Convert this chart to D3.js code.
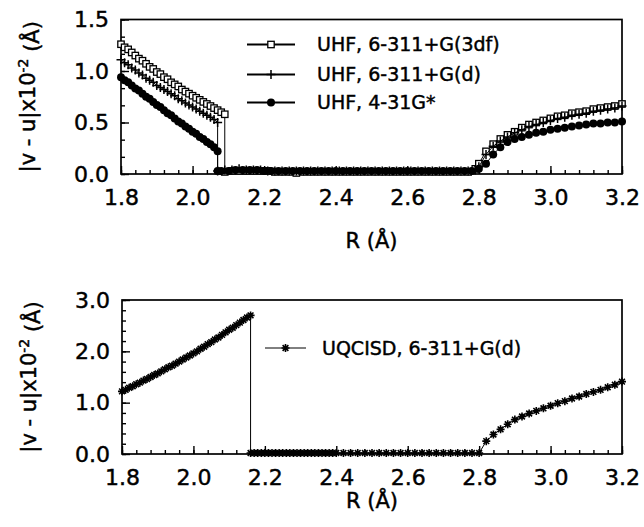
<!DOCTYPE html>
<html>
<head>
<meta charset="utf-8">
<script src="https://cdn.jsdelivr.net/npm/d3@7"></script>
<style>
  body { margin: 0; background: #fff; }
  svg { display: block; font-family: "DejaVu Sans", sans-serif; }
  svg text { stroke: #000; stroke-width: 0.45px; }
</style>
</head>
<body>
<div id="chart"></div>
<script>
// UHF, 6-311+G(3df) : [R, |v-u|]
const uhf3df = [
    [1.80, 1.26], [1.81, 1.23], [1.82, 1.21], [1.83, 1.18], [1.84, 1.15], [1.85, 1.12],
    [1.86, 1.10], [1.87, 1.07], [1.88, 1.04], [1.89, 1.02], [1.90, 0.99], [1.91, 0.97],
    [1.92, 0.94], [1.93, 0.92], [1.94, 0.89], [1.95, 0.87], [1.96, 0.85], [1.97, 0.82],
    [1.98, 0.80], [1.99, 0.78], [2.00, 0.76], [2.01, 0.74], [2.02, 0.72], [2.03, 0.70],
    [2.04, 0.68], [2.05, 0.66], [2.06, 0.64], [2.07, 0.62], [2.08, 0.60], [2.09, 0.58],
    [2.09, 0.02], [2.11, 0.03], [2.13, 0.03], [2.15, 0.03], [2.17, 0.03], [2.19, 0.03],
    [2.21, 0.03], [2.23, 0.02], [2.25, 0.02], [2.27, 0.02], [2.29, 0.01], [2.31, 0.02],
    [2.33, 0.02], [2.35, 0.02], [2.37, 0.02], [2.39, 0.02], [2.41, 0.02], [2.43, 0.02],
    [2.45, 0.02], [2.47, 0.02], [2.49, 0.02], [2.51, 0.02], [2.53, 0.02], [2.55, 0.02],
    [2.57, 0.02], [2.59, 0.02], [2.61, 0.02], [2.63, 0.02], [2.65, 0.02], [2.67, 0.02],
    [2.69, 0.02], [2.71, 0.02], [2.73, 0.02], [2.75, 0.02], [2.77, 0.02], [2.79, 0.05],
    [2.80, 0.10], [2.82, 0.22], [2.84, 0.29], [2.86, 0.34], [2.88, 0.38], [2.90, 0.41],
    [2.92, 0.45], [2.94, 0.48], [2.96, 0.50], [2.98, 0.52], [3.00, 0.54], [3.02, 0.56],
    [3.04, 0.57], [3.06, 0.59], [3.08, 0.60], [3.10, 0.61], [3.12, 0.63], [3.14, 0.64],
    [3.16, 0.65], [3.18, 0.66], [3.20, 0.68]
];

// UHF, 6-311+G(d)
const uhfD = [
    [1.80, 1.11], [1.81, 1.08], [1.82, 1.06], [1.83, 1.03], [1.84, 1.01], [1.85, 0.98],
    [1.86, 0.96], [1.87, 0.93], [1.88, 0.91], [1.89, 0.89], [1.90, 0.86], [1.91, 0.84],
    [1.92, 0.82], [1.93, 0.80], [1.94, 0.78], [1.95, 0.76], [1.96, 0.73], [1.97, 0.71],
    [1.98, 0.69], [1.99, 0.67], [2.00, 0.65], [2.01, 0.63], [2.02, 0.61], [2.03, 0.59],
    [2.04, 0.57], [2.05, 0.55], [2.06, 0.53], [2.07, 0.50],
    [2.07, 0.03], [2.09, 0.04], [2.11, 0.04], [2.13, 0.05], [2.15, 0.04], [2.17, 0.04],
    [2.19, 0.04], [2.21, 0.03], [2.23, 0.03], [2.25, 0.03], [2.27, 0.03], [2.29, 0.03],
    [2.31, 0.03], [2.33, 0.03], [2.35, 0.03], [2.37, 0.03], [2.39, 0.03], [2.41, 0.03],
    [2.43, 0.03], [2.45, 0.03], [2.47, 0.03], [2.49, 0.03], [2.51, 0.03], [2.53, 0.03],
    [2.55, 0.03], [2.57, 0.03], [2.59, 0.03], [2.61, 0.03], [2.63, 0.03], [2.65, 0.03],
    [2.67, 0.03], [2.69, 0.03], [2.71, 0.03], [2.73, 0.03], [2.75, 0.03], [2.77, 0.03],
    [2.79, 0.04], [2.80, 0.07], [2.82, 0.19], [2.84, 0.27], [2.86, 0.32], [2.88, 0.36],
    [2.90, 0.40], [2.92, 0.43], [2.94, 0.46], [2.96, 0.48], [2.98, 0.50], [3.00, 0.52],
    [3.02, 0.54], [3.04, 0.55], [3.06, 0.57], [3.08, 0.58], [3.10, 0.59], [3.12, 0.61],
    [3.14, 0.62], [3.16, 0.63], [3.18, 0.64], [3.20, 0.66]
];

// UHF, 4-31G*
const uhf431 = [
    [1.80, 0.94], [1.81, 0.91], [1.82, 0.89], [1.83, 0.86], [1.84, 0.83], [1.85, 0.81],
    [1.86, 0.78], [1.87, 0.75], [1.88, 0.73], [1.89, 0.70], [1.90, 0.67], [1.91, 0.65],
    [1.92, 0.62], [1.93, 0.59], [1.94, 0.57], [1.95, 0.54], [1.96, 0.51], [1.97, 0.49],
    [1.98, 0.46], [1.99, 0.44], [2.00, 0.41], [2.01, 0.39], [2.02, 0.36], [2.03, 0.34],
    [2.04, 0.31], [2.05, 0.29], [2.06, 0.26], [2.07, 0.22],
    [2.07, 0.03], [2.08, 0.03], [2.10, 0.03], [2.12, 0.04], [2.14, 0.04], [2.16, 0.04],
    [2.18, 0.04], [2.20, 0.03], [2.22, 0.03], [2.24, 0.03], [2.26, 0.03], [2.28, 0.03],
    [2.30, 0.03], [2.32, 0.03], [2.34, 0.03], [2.36, 0.03], [2.38, 0.03], [2.40, 0.03],
    [2.42, 0.03], [2.44, 0.03], [2.46, 0.03], [2.48, 0.03], [2.50, 0.03], [2.52, 0.03],
    [2.54, 0.03], [2.56, 0.03], [2.58, 0.03], [2.60, 0.03], [2.62, 0.03], [2.64, 0.03],
    [2.66, 0.03], [2.68, 0.03], [2.70, 0.03], [2.72, 0.03], [2.74, 0.03], [2.76, 0.03],
    [2.78, 0.03], [2.80, 0.05], [2.82, 0.10], [2.84, 0.19], [2.86, 0.26], [2.88, 0.31],
    [2.90, 0.34], [2.92, 0.36], [2.94, 0.38], [2.96, 0.40], [2.98, 0.41], [3.00, 0.43],
    [3.02, 0.44], [3.04, 0.45], [3.06, 0.46], [3.08, 0.47], [3.10, 0.48], [3.12, 0.49],
    [3.14, 0.49], [3.16, 0.50], [3.18, 0.50], [3.20, 0.51]
];

// UQCISD, 6-311+G(d)
const uqcisd = [
    [1.80, 1.22], [1.81, 1.25], [1.82, 1.29], [1.83, 1.32], [1.84, 1.36], [1.85, 1.39],
    [1.86, 1.43], [1.87, 1.46], [1.88, 1.50], [1.89, 1.54], [1.90, 1.57], [1.91, 1.61],
    [1.92, 1.65], [1.93, 1.69], [1.94, 1.72], [1.95, 1.76], [1.96, 1.80], [1.97, 1.84],
    [1.98, 1.88], [1.99, 1.92], [2.00, 1.96], [2.01, 2.00], [2.02, 2.05], [2.03, 2.09],
    [2.04, 2.14], [2.05, 2.18], [2.06, 2.23], [2.07, 2.27], [2.08, 2.32], [2.09, 2.37],
    [2.10, 2.42], [2.11, 2.46], [2.12, 2.51], [2.13, 2.56], [2.14, 2.61], [2.15, 2.66],
    [2.16, 2.70],
    [2.16, 0.02], [2.17, 0.02], [2.18, 0.02], [2.19, 0.02], [2.20, 0.02], [2.21, 0.02],
    [2.22, 0.02], [2.23, 0.02], [2.24, 0.02], [2.25, 0.02], [2.26, 0.02], [2.27, 0.02],
    [2.28, 0.02], [2.29, 0.02], [2.30, 0.02], [2.31, 0.02], [2.32, 0.02], [2.33, 0.02],
    [2.34, 0.02], [2.35, 0.02], [2.36, 0.02], [2.37, 0.02], [2.38, 0.02], [2.39, 0.02],
    [2.40, 0.02], [2.42, 0.02], [2.44, 0.02], [2.46, 0.02], [2.48, 0.02], [2.50, 0.02],
    [2.52, 0.02], [2.54, 0.02], [2.56, 0.02], [2.58, 0.02], [2.60, 0.02], [2.62, 0.02],
    [2.64, 0.02], [2.66, 0.02], [2.68, 0.02], [2.70, 0.02], [2.72, 0.02], [2.74, 0.02],
    [2.76, 0.02], [2.78, 0.02], [2.80, 0.02], [2.82, 0.25], [2.84, 0.38], [2.86, 0.48],
    [2.88, 0.58], [2.90, 0.67], [2.92, 0.73], [2.94, 0.79], [2.96, 0.84], [2.98, 0.89],
    [3.00, 0.94], [3.02, 0.99], [3.04, 1.03], [3.06, 1.08], [3.08, 1.12], [3.10, 1.17],
    [3.12, 1.21], [3.14, 1.25], [3.16, 1.30], [3.18, 1.35], [3.20, 1.41]
];

const xTicks = [1.8, 2.0, 2.2, 2.4, 2.6, 2.8, 3.0, 3.2];
const yTicksTop = [0.0, 0.5, 1.0, 1.5];
const yTicksBottom = [0.0, 1.0, 2.0, 3.0];
const legendTop = ['UHF, 6-311+G(3df)', 'UHF, 6-311+G(d)', 'UHF, 4-31G*'];
const legendBottom = ['UQCISD, 6-311+G(d)'];

const svg = d3.select('#chart')
    .append('svg')
    .attr('width', 644)
    .attr('height', 527);

// marker drawers
function drawMarker(g, kind, x, y) {
    if (kind === 'square') {
        g.append('rect')
            .attr('x', x - 3.2).attr('y', y - 3.2)
            .attr('width', 6.4).attr('height', 6.4)
            .attr('fill', '#fff').attr('stroke', '#000').attr('stroke-width', 1.3);
    } else if (kind === 'plus') {
        g.append('path')
            .attr('d', `M${x - 4.5},${y}H${x + 4.5}M${x},${y - 4.5}V${y + 4.5}`)
            .attr('stroke', '#000').attr('stroke-width', 1.5);
    } else if (kind === 'circle') {
        g.append('circle')
            .attr('cx', x).attr('cy', y).attr('r', 4)
            .attr('fill', '#000');
    } else if (kind === 'star') {
        const r = 4, d = r * 0.72;
        g.append('path')
            .attr('d', `M${x - r},${y}H${x + r}M${x},${y - r}V${y + r}` +
                `M${x - d},${y - d}L${x + d},${y + d}M${x - d},${y + d}L${x + d},${y - d}`)
            .attr('stroke', '#000').attr('stroke-width', 1.6);
    }
}

function panel(opts) {
    const { left, top, width, height, yDomain, yTicks, yMinorStep, series, legend, titleGap } = opts;
    const g = svg.append('g').attr('transform', `translate(${left}, ${top})`);

    const x = d3.scaleLinear().domain([1.8, 3.2]).range([0, width]);
    const y = d3.scaleLinear().domain(yDomain).range([height, 0]);

    const xMinor = d3.range(1.8, 3.2001, 0.04).map(v => +v.toFixed(2));
    const yMinor = d3.range(yDomain[0], yDomain[1] + 1e-6, yMinorStep);

    // minor ticks
    g.append('g')
        .attr('transform', `translate(0, ${height})`)
        .call(d3.axisBottom(x).tickValues(xMinor).tickSize(-4).tickFormat(''))
        .call(a => a.select('.domain').remove());
    g.append('g')
        .call(d3.axisLeft(y).tickValues(yMinor).tickSize(-4).tickFormat(''))
        .call(a => a.select('.domain').remove());

    // major ticks + labels
    const xAx = g.append('g')
        .attr('transform', `translate(0, ${height})`)
        .call(d3.axisBottom(x).tickValues(xTicks).tickSize(-8).tickPadding(15).tickFormat(d3.format('.1f')));
    xAx.select('.domain').remove();
    xAx.selectAll('text').attr('font-size', 22).attr('font-family', '"DejaVu Sans", sans-serif');
    const yAx = g.append('g')
        .call(d3.axisLeft(y).tickValues(yTicks).tickSize(-8).tickPadding(12).tickFormat(d3.format('.1f')));
    yAx.select('.domain').remove();
    yAx.selectAll('text').attr('font-size', 22).attr('font-family', '"DejaVu Sans", sans-serif');
    g.selectAll('.tick line').attr('stroke-width', 1.4);

    // frame
    g.append('rect')
        .attr('width', width).attr('height', height)
        .attr('fill', 'none').attr('stroke', '#000').attr('stroke-width', 1.7);

    // series
    const line = d3.line().x(d => x(d[0])).y(d => y(d[1]));
    series.forEach(s => {
        g.append('path')
            .datum(s.data)
            .attr('d', line)
            .attr('fill', 'none').attr('stroke', '#000').attr('stroke-width', 1);
        const mg = g.append('g');
        s.data.forEach(d => drawMarker(mg, s.marker, x(d[0]), y(d[1])));
    });

    // legend
    legend.forEach((l, i) => {
        const ly = l.y;
        g.append('line')
            .attr('x1', l.x1).attr('x2', l.x2).attr('y1', ly).attr('y2', ly)
            .attr('stroke', '#000').attr('stroke-width', l.sw);
        const mg = g.append('g');
        drawMarker(mg, series[i].marker, (l.x1 + l.x2) / 2, ly);
        g.append('text')
            .attr('x', l.tx).attr('y', ly)
            .attr('dy', '0.36em')
            .attr('font-size', 19)
            .text(l.label);
    });

    // axis titles
    g.append('text')
        .attr('x', width / 2).attr('y', height + titleGap)
        .attr('text-anchor', 'middle')
        .attr('font-size', 21)
        .text('R (Å)');
    const yt = g.append('text')
        .attr('transform', `translate(${-86}, ${height / 2}) rotate(-90)`)
        .attr('text-anchor', 'middle')
        .attr('font-size', 21);
    yt.append('tspan').text('|v - u|x10');
    yt.append('tspan').attr('dy', '-0.5em').attr('font-size', 14).text('-2');
    yt.append('tspan').attr('dy', '0.5em').text(' (Å)');
}

panel({
    left: 121, top: 19.5, width: 501, height: 154.5,
    yDomain: [0, 1.5], yTicks: yTicksTop, yMinorStep: 0.5 / 3, titleGap: 74,
    series: [
        { data: uhf3df, marker: 'square' },
        { data: uhfD, marker: 'plus' },
        { data: uhf431, marker: 'circle' }
    ],
    legend: legendTop.map((label, i) => ({
        label, x1: 126, x2: 174, tx: 196, y: [25, 55, 83][i], sw: 2.2
    }))
});

panel({
    left: 122, top: 300, width: 500, height: 154,
    yDomain: [0, 3], yTicks: yTicksBottom, yMinorStep: 0.2, titleGap: 54,
    series: [
        { data: uqcisd, marker: 'star' }
    ],
    legend: legendBottom.map(label => ({
        label, x1: 143, x2: 184, tx: 200, y: 48, sw: 1
    }))
});
</script>
</body>
</html>
